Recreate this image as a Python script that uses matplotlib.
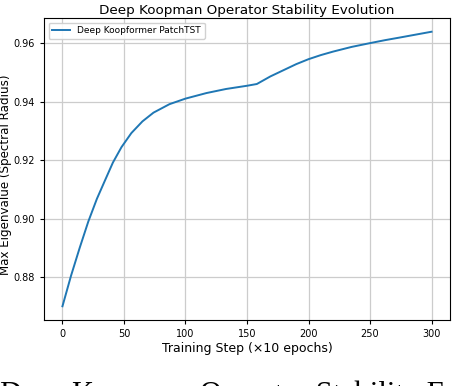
import matplotlib
matplotlib.use("Agg")
import matplotlib.pyplot as plt

steps = [0, 7, 14, 21, 28, 35, 41, 48, 56, 65, 74, 87, 100, 117, 133, 150, 158,
         169, 180, 190, 200, 210, 220, 235, 250, 262, 274, 287, 300]
max_eig = [0.8700, 0.8805, 0.8900, 0.8990, 0.9068, 0.9135, 0.9192, 0.9245, 0.9293,
           0.9333, 0.9363, 0.9392, 0.9411, 0.9430, 0.9444, 0.9455, 0.9461,
           0.9487, 0.9509, 0.9529, 0.9546, 0.9560, 0.9572, 0.9588, 0.9601,
           0.9611, 0.9620, 0.9630, 0.9640]
series_label = "Deep Koopformer PatchTST"
title = "Deep Koopman Operator Stability Evolution"
xlabel = "Training Step (\u00d710 epochs)"
ylabel = "Max Eigenvalue (Spectral Radius)"
caption = "Deep Koopman Operator Stability Evolution"

fig = plt.figure(figsize=(4.66, 3.86), dpi=100)
ax = fig.add_axes([44/466, 1-320/386, (450-44)/466, (320-18)/386])
ax.plot(steps, max_eig, color="#1f77b4", lw=1.4, label=series_label)
ax.set_yticks([0.88, 0.90, 0.92, 0.94, 0.96])
ax.set_xticks([0, 50, 100, 150, 200, 250, 300])
ax.grid(True, color="#cccccc", lw=0.9)
ax.tick_params(labelsize=7.0, length=3, width=0.8)
ax.set_title(title, fontsize=9.7, pad=3)
ax.set_xlabel(xlabel, fontsize=9, labelpad=2)
ax.set_ylabel(ylabel, fontsize=8.6)
ax.yaxis.set_label_coords(-0.079, 0.48)
ax.legend(loc="upper left", fontsize=6.5, framealpha=0.9)
fig.text(0.0, -0.044, caption, family="Liberation Serif", fontsize=22, va="baseline", ha="left")
fig.savefig("out.png", dpi=100)
